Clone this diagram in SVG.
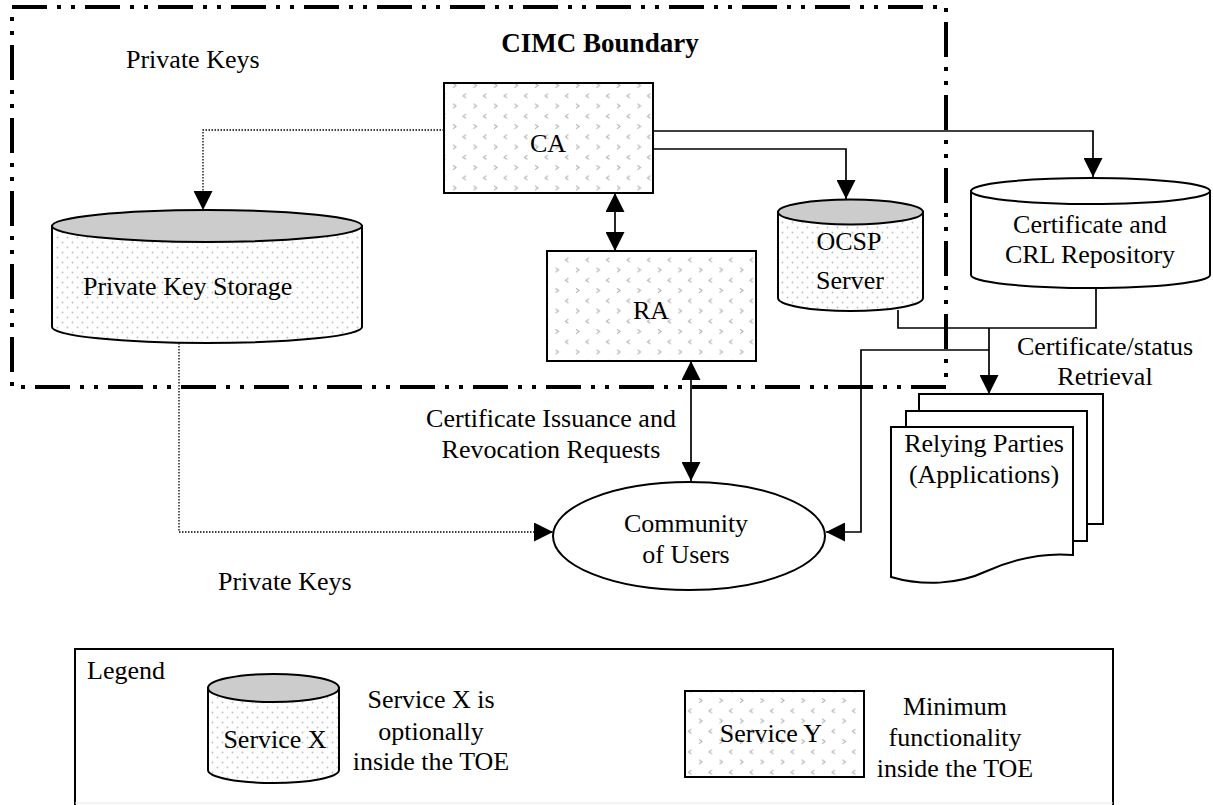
<svg xmlns="http://www.w3.org/2000/svg" width="1213" height="805" viewBox="0 0 1213 805">
<style>
text{font-family:"Liberation Serif","Times New Roman",serif;font-size:26px;fill:#000}
.c{text-anchor:middle}
.box{stroke:#000;stroke-width:2}
.ln{fill:none;stroke:#000;stroke-width:1.7}
.dot{fill:none;stroke:#000;stroke-width:1.3;stroke-dasharray:1.5 1.5}
</style>
<defs>
<pattern id="chev" width="20.5" height="20.5" patternUnits="userSpaceOnUse">
<rect width="20.5" height="20.5" fill="#fff"/>
<path d="M2,1.3 L5,3.5 L2,5.7 M15,11.6 L12,13.8 L15,16" fill="none" stroke="#a8a8a8" stroke-width="1"/>
</pattern>
<pattern id="dots" width="10" height="10" patternUnits="userSpaceOnUse">
<rect width="10" height="10" fill="#fff"/>
<circle cx="2.5" cy="2.5" r="0.9" fill="#bdbdbd"/>
<circle cx="7.5" cy="7.5" r="0.9" fill="#bdbdbd"/>
</pattern>
<marker id="ah" markerWidth="19" markerHeight="19" refX="19" refY="9.5" orient="auto" markerUnits="userSpaceOnUse">
<path d="M0,0 L19,9.5 L0,19 Z" fill="#000"/>
</marker>
<marker id="ahs" markerWidth="19" markerHeight="19" refX="19" refY="9.5" orient="auto-start-reverse" markerUnits="userSpaceOnUse">
<path d="M0,0 L19,9.5 L0,19 Z" fill="#000"/>
</marker>
</defs>
<rect width="1213" height="805" fill="#fff"/>

<g id="boundary">
<rect x="12" y="7" width="934" height="380" fill="none" stroke="#000" stroke-width="4" stroke-dasharray="35 10 4 10 4 10"/>
<text class="c" x="600" y="52" style="font-weight:bold;font-size:27px">CIMC Boundary</text>
</g>

<g id="connectors">
<path class="dot" d="M444,130 H203 V210" marker-end="url(#ah)"/>
<path class="dot" d="M179,343 V532 H553" marker-end="url(#ah)"/>
<path class="ln" d="M653,131 H1093 V177" marker-end="url(#ah)"/>
<path class="ln" d="M653,149 H846 V199" marker-end="url(#ah)"/>
<path class="ln" d="M615,193 V251" marker-start="url(#ahs)" marker-end="url(#ah)"/>
<path class="ln" d="M691,361 V481" marker-start="url(#ahs)" marker-end="url(#ah)"/>
<path class="ln" d="M898,310 V328 H1096 V287"/>
<path class="ln" d="M989,328 V394" marker-end="url(#ah)"/>
<path class="ln" d="M989,350 H861 V532 H826" marker-end="url(#ah)"/>
</g>

<g id="labels">
<text x="126" y="68">Private Keys</text>
<text x="218" y="590">Private Keys</text>
<text class="c" x="551" y="427">Certificate Issuance and</text>
<text class="c" x="551" y="458">Revocation Requests</text>
<text class="c" x="1105" y="355">Certificate/status</text>
<text class="c" x="1105" y="385">Retrieval</text>
</g>

<g id="ca">
<rect class="box" x="444" y="83" width="209" height="110" fill="url(#chev)"/>
<text class="c" x="548" y="152">CA</text>
</g>

<g id="ra">
<rect class="box" x="547" y="251" width="209" height="110" fill="url(#chev)"/>
<text class="c" x="651" y="319">RA</text>
</g>

<g id="pks">
<path class="box" d="M52,226 V327 A155,16 0 0 0 362,327 V226 Z" fill="url(#dots)"/>
<ellipse class="box" cx="207" cy="226" rx="155" ry="16" fill="#cccccc"/>
<text x="83" y="295">Private Key Storage</text>
</g>

<g id="ocsp">
<path class="box" d="M778,212 V298 A72.5,13 0 0 0 923,298 V212 Z" fill="url(#dots)"/>
<ellipse class="box" cx="850.5" cy="212" rx="72.5" ry="12.5" fill="#cccccc"/>
<text class="c" x="849" y="250">OCSP</text>
<text class="c" x="850" y="289">Server</text>
</g>

<g id="repo">
<path class="box" d="M971,191 V275 A119.5,13 0 0 0 1210,275 V191 Z" fill="#fff"/>
<ellipse class="box" cx="1090.5" cy="191" rx="119.5" ry="13" fill="#fff"/>
<text class="c" x="1090" y="233">Certificate and</text>
<text class="c" x="1090" y="263">CRL Repository</text>
</g>

<g id="relying">
<rect class="box" x="919" y="394" width="184" height="130" fill="#fff"/>
<rect class="box" x="906" y="411" width="181" height="130" fill="#fff"/>
<path class="box" d="M891,427 H1073 V555 C1040,552 1012,560 987,571 C957,585 922,586 891,577 Z" fill="#fff"/>
<text class="c" x="984" y="452">Relying Parties</text>
<text class="c" x="984" y="483">(Applications)</text>
</g>

<g id="users">
<ellipse class="box" cx="689" cy="536" rx="136" ry="54" fill="#fff"/>
<text class="c" x="686" y="532">Community</text>
<text class="c" x="686" y="563">of Users</text>
</g>

<g id="legend">
<path d="M75,806 V649 H1113 V806" fill="none" stroke="#000" stroke-width="2"/>
<line x1="75" y1="803" x2="1113" y2="803" stroke="#e6e6e6" stroke-width="1"/>
<text x="87" y="679">Legend</text>
<path class="box" d="M208,688 V770 A65.5,13 0 0 0 339,770 V688 Z" fill="url(#dots)"/>
<ellipse class="box" cx="273.5" cy="688" rx="65.5" ry="14" fill="#cccccc"/>
<text class="c" x="275" y="748">Service X</text>
<text class="c" x="431" y="708">Service X is</text>
<text class="c" x="431" y="740">optionally</text>
<text class="c" x="431" y="770">inside the TOE</text>
<rect class="box" x="685" y="691" width="179" height="86" fill="url(#chev)"/>
<text class="c" x="771" y="742">Service Y</text>
<text class="c" x="955" y="715">Minimum</text>
<text class="c" x="955" y="746">functionality</text>
<text class="c" x="955" y="777">inside the TOE</text>
</g>
</svg>
